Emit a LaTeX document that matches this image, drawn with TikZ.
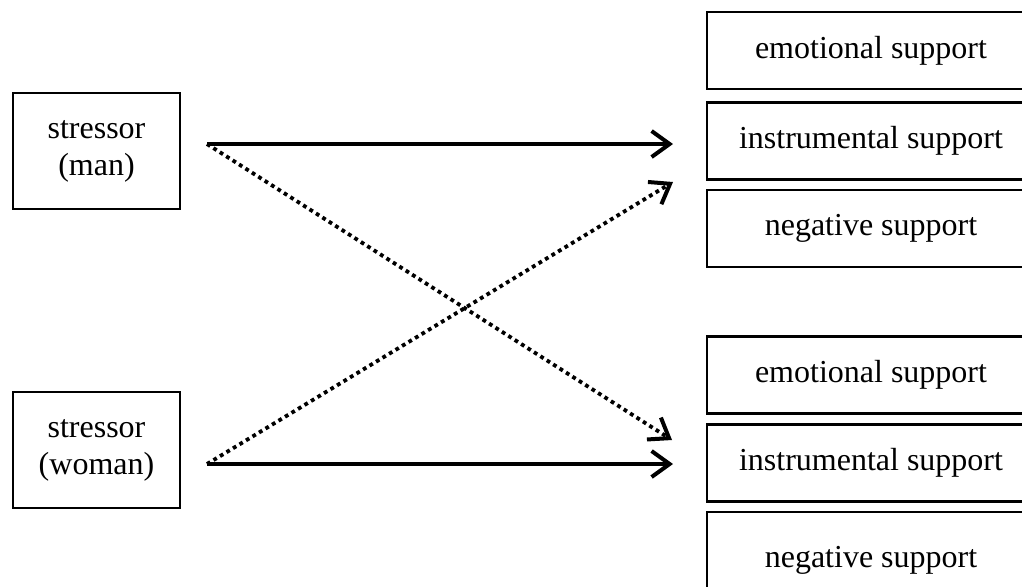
\documentclass[tikz,border=0pt]{standalone}
\usepackage{fontspec}
\setmainfont{Liberation Serif}
\usetikzlibrary{arrows.meta}
\begin{document}
\begin{tikzpicture}[x=0.5pt,y=-0.5pt,
  box/.style={draw,line width=1.4pt,rectangle,inner sep=0pt,align=center,font=\fontsize{16}{18.5}\selectfont},
  lbox/.style={box,minimum width=83.5pt,minimum height=58pt},
  rbox/.style={box,minimum width=164pt,minimum height=38.5pt},
  tip/.style={-{Straight Barb[length=9pt,width=13pt,line width=2pt]}},
  solidarr/.style={line width=1.7pt,tip},
  dotarr/.style={line width=1.9pt,dash pattern=on 1.9pt off 1.9pt,tip}]
\useasboundingbox (0,0) rectangle (1022,586);
\node[lbox] (sm) at (96.5,151) {stressor\\(man)};
\node[lbox] (sw) at (96.5,450) {stressor\\(woman)};
\node[rbox] (e1) at (871,50.5) {emotional support};
\node[rbox] (i1) at (871,141) {instrumental support};
\node[rbox] (n1) at (871,228.5) {negative support};
\node[rbox] (e2) at (871,375) {emotional support};
\node[rbox] (i2) at (871,463) {instrumental support};
\node[box,minimum width=164pt,minimum height=48pt] (n2) at (871,560) {negative support};
\coordinate (ms) at (207,144);
\coordinate (ws) at (207,464);
\coordinate (t1) at (673,144);
\coordinate (t1d) at (673,182);
\coordinate (t2d) at (672,440);
\coordinate (t2) at (673,464);
\draw[solidarr] (ms) -- (t1);
\draw[dotarr] (ms) -- (t2d);
\draw[dotarr] (ws) -- (t1d);
\draw[solidarr] (ws) -- (t2);
\end{tikzpicture}
\end{document}
